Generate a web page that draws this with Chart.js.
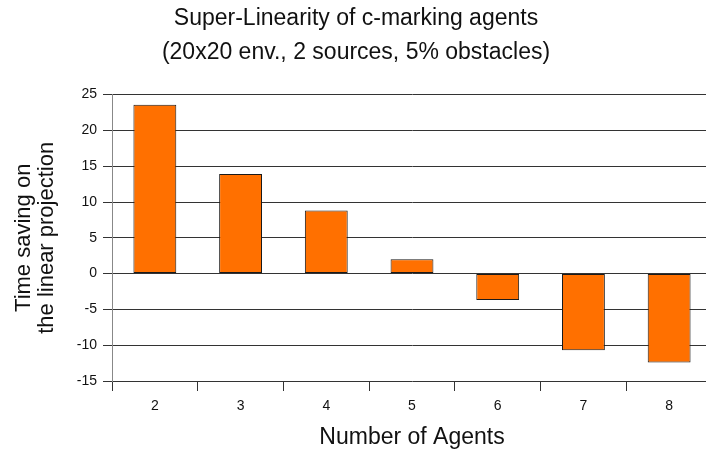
<!DOCTYPE html>
<html>
<head>
<meta charset="utf-8">
<script src="https://cdn.jsdelivr.net/npm/chart.js@4"></script>
<style>
  html, body { margin: 0; padding: 0; background: #fff; overflow: hidden; }
  #chart { display: block; }
</style>
</head>
<body>
<canvas id="chart" width="712" height="451"></canvas>
<script>
// data
const agents = ['2', '3', '4', '5', '6', '7', '8'];
const timeSaving = [23.6, 13.9, 8.8, 2.0, -3.7, -10.7, -12.4];
const titleLines = ['Super-Linearity of c-marking agents', '(20x20 env., 2 sources, 5% obstacles)'];
const yTitleLines = ['Time saving on', 'the linear projection'];
const xTitle = 'Number of Agents';

const font = '"Liberation Sans", Arial, sans-serif';

new Chart(document.getElementById('chart'), {
  type: 'bar',
  data: {
    labels: agents,
    datasets: [{
      data: timeSaving,
      backgroundColor: '#ff7000',
      borderColor: '#1a1a1a',
      borderWidth: 1,
      borderSkipped: false,
      barPercentage: 0.5,
      categoryPercentage: 1
    }]
  },
  options: {
    responsive: false,
    animation: false,
    layout: { padding: 0 },
    plugins: {
      legend: { display: false },
      tooltip: { enabled: false },
      title: {
        display: true,
        text: titleLines,
        color: '#111',
        font: { family: font, size: 23, weight: 'normal', lineHeight: 1.47 },
        padding: { top: 2, bottom: 25 }
      }
    },
    scales: {
      x: {
        offset: true,
        grid: {
          offset: true,
          drawOnChartArea: false,
          drawTicks: true,
          tickLength: 10,
          color: '#333'
        },
        border: { display: false },
        ticks: { color: '#111', font: { family: font, size: 14 }, padding: 7 },
        title: {
          display: true,
          text: xTitle,
          color: '#111',
          font: { family: font, size: 23, lineHeight: 1.2 },
          padding: { top: 0, bottom: 0 }
        },
        afterFit: (scale) => { scale.height = 70; }
      },
      y: {
        min: -15,
        max: 25,
        ticks: { stepSize: 5, color: '#111', font: { family: font, size: 14 }, padding: 6 },
        grid: { color: '#333', tickLength: 9 },
        border: { color: '#888' },
        title: {
          display: true,
          text: yTitleLines,
          color: '#111',
          font: { family: font, size: 22, lineHeight: 1.05 },
          padding: { top: 12, bottom: 0 }
        },
        afterFit: (scale) => { scale.width = 112; }
      }
    }
  }
});
</script>
</body>
</html>
